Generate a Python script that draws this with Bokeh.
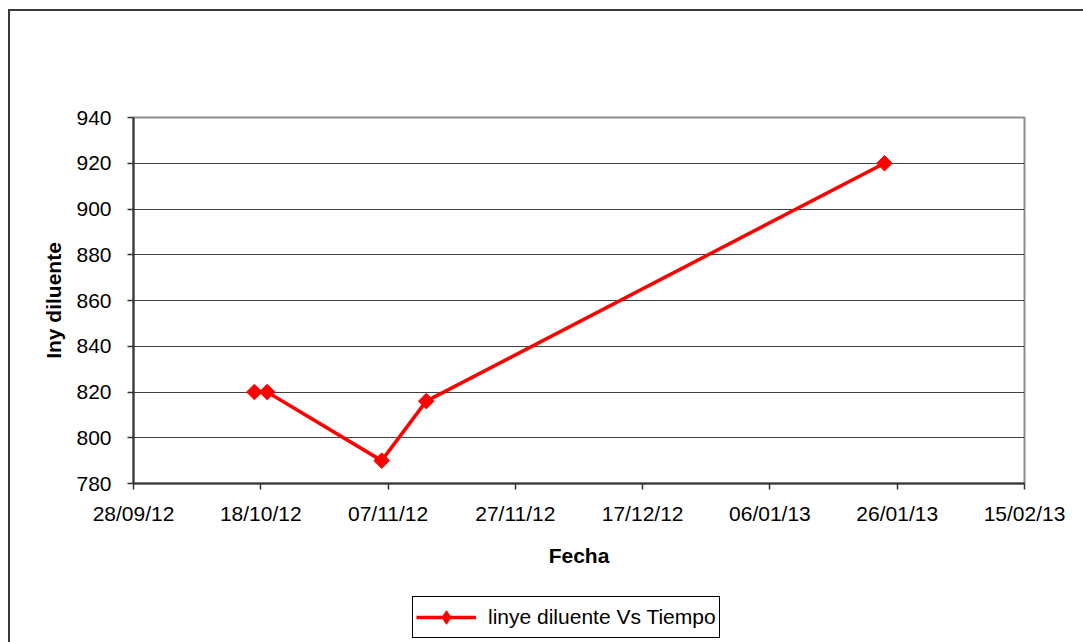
import math
from datetime import datetime
from bokeh.plotting import figure
from bokeh.layouts import column
from bokeh.models import (ColumnDataSource, Range1d, FixedTicker, Legend, LegendItem,
                          DatetimeTickFormatter)
from bokeh.embed import file_html
from bokeh.resources import INLINE

# ---- data ----
dates = ["2012-10-17", "2012-10-19", "2012-11-06", "2012-11-13", "2013-01-24"]
values = [820, 820, 790, 816, 920]
x_tick_dates = ["2012-09-28", "2012-10-18", "2012-11-07", "2012-11-27",
                "2012-12-17", "2013-01-06", "2013-01-26", "2013-02-15"]
x_tick_labels = ["28/09/12", "18/10/12", "07/11/12", "27/11/12",
                 "17/12/12", "06/01/13", "26/01/13", "15/02/13"]
y_ticks = [780, 800, 820, 840, 860, 880, 900, 920, 940]
series_name = "linye diluente Vs Tiempo"


def ms(s):
    d = datetime.strptime(s, "%Y-%m-%d")
    return (d - datetime(1970, 1, 1)).total_seconds() * 1000.0


xs = [ms(d) for d in dates]
tick_ms = [ms(d) for d in x_tick_dates]
src = ColumnDataSource(dict(x=xs, y=values))

FONT = "Liberation Sans"
RED = "#ff0000"

p = figure(width=1073, height=576, x_axis_type="datetime",
           output_backend="svg", toolbar_location=None,
           x_range=Range1d(tick_ms[0], tick_ms[-1]),
           y_range=Range1d(y_ticks[0], y_ticks[-1]),
           min_border_left=123, min_border_right=59,
           min_border_top=106, min_border_bottom=104)
p.background_fill_color = "white"
p.border_fill_color = "white"
p.outline_line_color = "#8c8c8c"
p.outline_line_width = 2

line = p.line("x", "y", source=src, line_color=RED, line_width=3.5)
pts = p.scatter("x", "y", source=src, marker="square", angle=math.pi / 4,
                size=11, fill_color=RED, line_color=RED)

# axes
p.xaxis.ticker = FixedTicker(ticks=tick_ms)
p.xaxis.formatter = DatetimeTickFormatter(days="%d/%m/%y", months="%d/%m/%y",
                                          years="%d/%m/%y")
p.xaxis.major_label_overrides = {t: l for t, l in zip(tick_ms, x_tick_labels)}
p.yaxis.ticker = FixedTicker(ticks=y_ticks)

for ax in (p.xaxis[0], p.yaxis[0]):
    ax.axis_line_color = "#333333"
    ax.axis_line_width = 2
    ax.major_tick_line_color = "#333333"
    ax.major_tick_line_width = 1.5
    ax.major_tick_out = 6
    ax.major_tick_in = 0
    ax.minor_tick_line_color = None
    ax.major_label_text_font = FONT
    ax.major_label_text_font_size = "21px"
    ax.major_label_text_color = "#000000"
    ax.axis_label_text_font = FONT
    ax.axis_label_text_font_size = "21px"
    ax.axis_label_text_font_style = "bold"
    ax.axis_label_text_color = "#000000"

p.xaxis.axis_label = "Fecha"
p.yaxis.axis_label = "Iny diluente"
p.xaxis.major_label_standoff = 12
p.yaxis.major_label_standoff = 16
p.xaxis.axis_label_standoff = 16
p.yaxis.axis_label_standoff = 8

p.xgrid.grid_line_color = None
p.ygrid.grid_line_color = "#404040"
p.ygrid.grid_line_width = 1

# ---- legend strip below the chart ----
lg = figure(width=1073, height=55, output_backend="svg", toolbar_location=None,
            x_axis_location=None, y_axis_location=None,
            x_range=Range1d(0, 1), y_range=Range1d(0, 1),
            min_border=0, min_border_left=0, min_border_right=0,
            min_border_top=0, min_border_bottom=0)
lg.outline_line_color = None
lg.background_fill_color = "white"
lg.border_fill_color = "white"
lg.xgrid.grid_line_color = None
lg.ygrid.grid_line_color = None
# legend-only renderers: their sample sits outside this strip's ranges
proxy = ColumnDataSource(dict(x=[-5.0, -4.0], y=[-5.0, -4.0]))
l_line = lg.line("x", "y", source=proxy, line_color=RED, line_width=3.5)
l_pts = lg.scatter("x", "y", source=proxy, marker="diamond",
                   size=16, fill_color=RED, line_color=RED)
legend = Legend(items=[LegendItem(label=series_name, renderers=[l_line, l_pts])],
                location=(279, 4), orientation="horizontal",
                glyph_width=60, glyph_height=34, label_standoff=12,
                padding=3, margin=0, spacing=0,
                label_text_font=FONT, label_text_font_size="21px",
                label_text_color="#000000",
                border_line_color="#000000", border_line_width=1,
                border_line_alpha=1.0,
                background_fill_color="white", background_fill_alpha=1.0)
lg.add_layout(legend, "center")

layout = column(p, lg, spacing=0)
layout.styles = {"margin-left": "8px", "margin-top": "9px",
                 "border-left": "2px solid #3a3a3a", "border-top": "2px solid #3a3a3a"}

open("out.html", "w").write(file_html(layout, INLINE))
